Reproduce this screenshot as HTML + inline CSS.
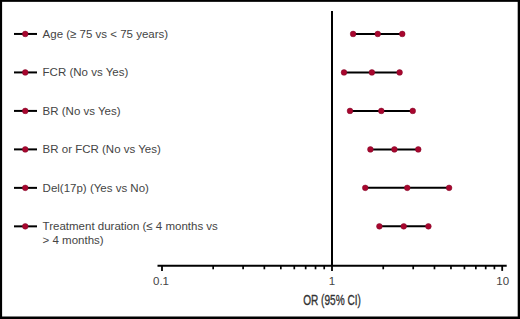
<!DOCTYPE html>
<html><head><meta charset="utf-8"><style>
html,body{margin:0;padding:0;background:#fff;}
body{width:520px;height:319px;position:relative;overflow:hidden;font-family:"Liberation Sans",sans-serif;}
svg{position:absolute;left:0;top:0;}
.lab{position:absolute;left:42.6px;font-size:11.5px;line-height:14px;color:#444;white-space:nowrap;}
.tk{position:absolute;top:274px;font-size:11.5px;line-height:14px;color:#444;width:40px;text-align:center;}
.xt{position:absolute;left:282px;width:100px;text-align:center;top:292px;font-size:14px;line-height:16px;color:#333;-webkit-text-stroke:0.35px #333;transform:scaleX(0.72);}
</style></head><body>
<svg width="520" height="319" viewBox="0 0 520 319">
<rect x="0" y="0" width="520" height="1.85" fill="#000"/>
<rect x="0" y="0" width="2.1" height="319" fill="#000"/>
<rect x="517.7" y="0" width="2.3" height="319" fill="#000"/>
<rect x="0" y="316.5" width="520" height="2.5" fill="#000"/>
<line x1="332.0" y1="11" x2="332.0" y2="265.7" stroke="#000" stroke-width="2"/>
<line x1="157.5" y1="265.7" x2="506.7" y2="265.7" stroke="#000" stroke-width="1.9"/>
<line x1="213.18" y1="265.7" x2="213.18" y2="269.3" stroke="#000" stroke-width="1.7"/>
<line x1="243.11" y1="265.7" x2="243.11" y2="269.3" stroke="#000" stroke-width="1.7"/>
<line x1="264.35" y1="265.7" x2="264.35" y2="269.3" stroke="#000" stroke-width="1.7"/>
<line x1="280.82" y1="265.7" x2="280.82" y2="269.3" stroke="#000" stroke-width="1.7"/>
<line x1="294.29" y1="265.7" x2="294.29" y2="269.3" stroke="#000" stroke-width="1.7"/>
<line x1="305.67" y1="265.7" x2="305.67" y2="269.3" stroke="#000" stroke-width="1.7"/>
<line x1="315.53" y1="265.7" x2="315.53" y2="269.3" stroke="#000" stroke-width="1.7"/>
<line x1="324.22" y1="265.7" x2="324.22" y2="269.3" stroke="#000" stroke-width="1.7"/>
<line x1="383.24" y1="265.7" x2="383.24" y2="269.3" stroke="#000" stroke-width="1.7"/>
<line x1="413.21" y1="265.7" x2="413.21" y2="269.3" stroke="#000" stroke-width="1.7"/>
<line x1="434.47" y1="265.7" x2="434.47" y2="269.3" stroke="#000" stroke-width="1.7"/>
<line x1="450.96" y1="265.7" x2="450.96" y2="269.3" stroke="#000" stroke-width="1.7"/>
<line x1="464.44" y1="265.7" x2="464.44" y2="269.3" stroke="#000" stroke-width="1.7"/>
<line x1="475.84" y1="265.7" x2="475.84" y2="269.3" stroke="#000" stroke-width="1.7"/>
<line x1="485.71" y1="265.7" x2="485.71" y2="269.3" stroke="#000" stroke-width="1.7"/>
<line x1="494.41" y1="265.7" x2="494.41" y2="269.3" stroke="#000" stroke-width="1.7"/>
<line x1="162.0" y1="265.7" x2="162.0" y2="270.9" stroke="#000" stroke-width="1.8"/>
<line x1="332.0" y1="265.7" x2="332.0" y2="270.9" stroke="#000" stroke-width="1.8"/>
<line x1="502.2" y1="265.7" x2="502.2" y2="270.9" stroke="#000" stroke-width="1.8"/>
<line x1="353.1" y1="33.95" x2="402.25" y2="33.95" stroke="#000" stroke-width="2"/>
<circle cx="353.1" cy="33.95" r="2.85" fill="#a8062e" stroke="#820a2a" stroke-width="0.5"/>
<circle cx="377.75" cy="33.95" r="2.85" fill="#a8062e" stroke="#820a2a" stroke-width="0.5"/>
<circle cx="402.25" cy="33.95" r="2.85" fill="#a8062e" stroke="#820a2a" stroke-width="0.5"/>
<line x1="14" y1="33.95" x2="37" y2="33.95" stroke="#000" stroke-width="2"/>
<circle cx="25.25" cy="33.95" r="2.85" fill="#a8062e" stroke="#820a2a" stroke-width="0.5"/>
<line x1="344.0" y1="72.43" x2="399.6" y2="72.43" stroke="#000" stroke-width="2"/>
<circle cx="344.0" cy="72.43" r="2.85" fill="#a8062e" stroke="#820a2a" stroke-width="0.5"/>
<circle cx="371.9" cy="72.43" r="2.85" fill="#a8062e" stroke="#820a2a" stroke-width="0.5"/>
<circle cx="399.6" cy="72.43" r="2.85" fill="#a8062e" stroke="#820a2a" stroke-width="0.5"/>
<line x1="14" y1="72.43" x2="37" y2="72.43" stroke="#000" stroke-width="2"/>
<circle cx="25.25" cy="72.43" r="2.85" fill="#a8062e" stroke="#820a2a" stroke-width="0.5"/>
<line x1="350.0" y1="110.91" x2="412.75" y2="110.91" stroke="#000" stroke-width="2"/>
<circle cx="350.0" cy="110.91" r="2.85" fill="#a8062e" stroke="#820a2a" stroke-width="0.5"/>
<circle cx="381.3" cy="110.91" r="2.85" fill="#a8062e" stroke="#820a2a" stroke-width="0.5"/>
<circle cx="412.75" cy="110.91" r="2.85" fill="#a8062e" stroke="#820a2a" stroke-width="0.5"/>
<line x1="14" y1="110.91" x2="37" y2="110.91" stroke="#000" stroke-width="2"/>
<circle cx="25.25" cy="110.91" r="2.85" fill="#a8062e" stroke="#820a2a" stroke-width="0.5"/>
<line x1="370.4" y1="149.39" x2="418.25" y2="149.39" stroke="#000" stroke-width="2"/>
<circle cx="370.4" cy="149.39" r="2.85" fill="#a8062e" stroke="#820a2a" stroke-width="0.5"/>
<circle cx="394.4" cy="149.39" r="2.85" fill="#a8062e" stroke="#820a2a" stroke-width="0.5"/>
<circle cx="418.25" cy="149.39" r="2.85" fill="#a8062e" stroke="#820a2a" stroke-width="0.5"/>
<line x1="14" y1="149.39" x2="37" y2="149.39" stroke="#000" stroke-width="2"/>
<circle cx="25.25" cy="149.39" r="2.85" fill="#a8062e" stroke="#820a2a" stroke-width="0.5"/>
<line x1="365.25" y1="187.87" x2="449.1" y2="187.87" stroke="#000" stroke-width="2"/>
<circle cx="365.25" cy="187.87" r="2.85" fill="#a8062e" stroke="#820a2a" stroke-width="0.5"/>
<circle cx="407.25" cy="187.87" r="2.85" fill="#a8062e" stroke="#820a2a" stroke-width="0.5"/>
<circle cx="449.1" cy="187.87" r="2.85" fill="#a8062e" stroke="#820a2a" stroke-width="0.5"/>
<line x1="14" y1="187.87" x2="37" y2="187.87" stroke="#000" stroke-width="2"/>
<circle cx="25.25" cy="187.87" r="2.85" fill="#a8062e" stroke="#820a2a" stroke-width="0.5"/>
<line x1="379.4" y1="226.35" x2="428.4" y2="226.35" stroke="#000" stroke-width="2"/>
<circle cx="379.4" cy="226.35" r="2.85" fill="#a8062e" stroke="#820a2a" stroke-width="0.5"/>
<circle cx="403.75" cy="226.35" r="2.85" fill="#a8062e" stroke="#820a2a" stroke-width="0.5"/>
<circle cx="428.4" cy="226.35" r="2.85" fill="#a8062e" stroke="#820a2a" stroke-width="0.5"/>
<line x1="14" y1="226.35" x2="37" y2="226.35" stroke="#000" stroke-width="2"/>
<circle cx="25.25" cy="226.35" r="2.85" fill="#a8062e" stroke="#820a2a" stroke-width="0.5"/>
</svg>
<div class="lab" style="top:26.65px">Age (≥ 75 vs &lt; 75 years)</div>
<div class="lab" style="top:65.13px">FCR (No vs Yes)</div>
<div class="lab" style="top:103.61px">BR (No vs Yes)</div>
<div class="lab" style="top:142.09px">BR or FCR (No vs Yes)</div>
<div class="lab" style="top:180.57px">Del(17p) (Yes vs No)</div>
<div class="lab" style="top:219.05px">Treatment duration (≤ 4 months vs<br>&gt; 4 months)</div>
<div class="tk" style="left:141px">0.1</div>
<div class="tk" style="left:312px">1</div>
<div class="tk" style="left:482.7px">10</div>
<div class="xt">OR (95% CI)</div>
</body></html>
